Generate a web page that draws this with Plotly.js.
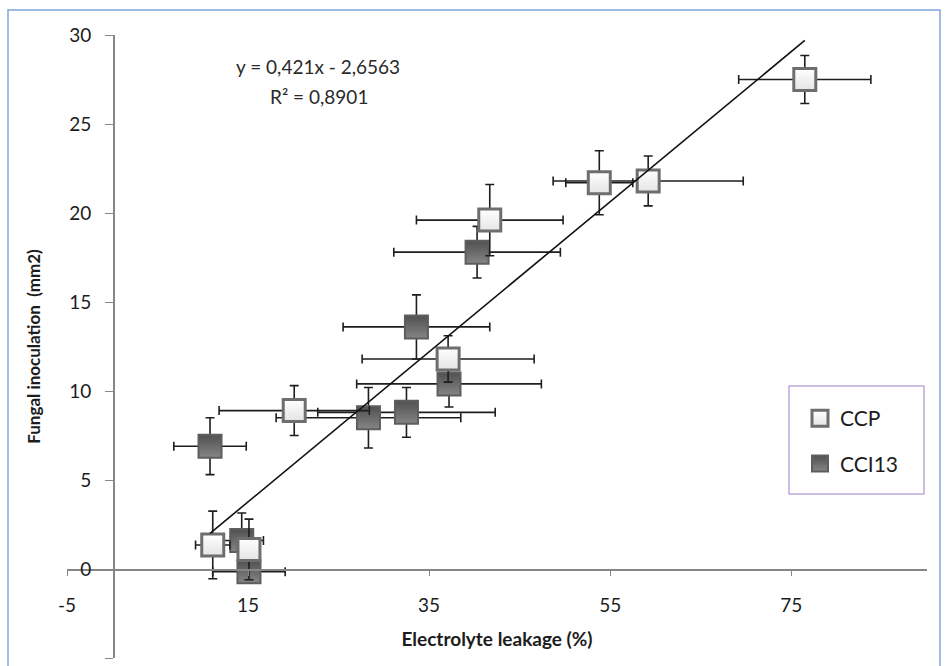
<!DOCTYPE html>
<html>
<head>
<meta charset="utf-8">
<script src="https://cdn.plot.ly/plotly-3.0.1.min.js"></script>
<style>
html,body{margin:0;padding:0;background:#fff;}
#chart{width:947px;height:666px;}
</style>
</head>
<body>
<div id="chart"></div>
<script>
// ---- data ----
const ccpX    = [11.1, 15.1, 20.1, 37.1, 41.7, 53.8, 59.2, 76.5];
const ccpY    = [1.35, 1.1, 8.9, 11.8, 19.6, 21.7, 21.8, 27.5];
const ccpXErr = [1.9, 1.0, 8.3, 9.5, 8.1, 3.7, 10.5, 7.3];
const ccpYErr = [1.9, 1.7, 1.4, 1.3, 2.0, 1.8, 1.4, 1.35];

const cciX    = [10.8, 14.3, 15.1, 28.3, 32.5, 33.6, 37.2, 40.3];
const cciY    = [6.9, 1.6, -0.15, 8.5, 8.8, 13.6, 10.4, 17.8];
const cciXErr = [4.0, 2.4, 4.0, 10.2, 9.8, 8.1, 10.2, 9.2];
const cciYErr = [1.6, 1.55, 0.65, 1.7, 1.4, 1.8, 1.3, 1.45];

const seriesNames = ["CCP", "CCI13"];
const xTickVals = [-5, 15, 35, 55, 75];
const yTickVals = [-5, 0, 5, 10, 15, 20, 25, 30];
const eqText = "y = 0,421x - 2,6563";
const r2Text = "R² = 0,8901";
const xTitle = "Electrolyte leakage (%)";
const yTitle = "Fungal inoculation  (mm2)";

// ---- linear trendline (least squares over both series) ----
const allX = ccpX.concat(cciX), allY = ccpY.concat(cciY);
const n = allX.length;
const mx = allX.reduce((a,b)=>a+b,0)/n, my = allY.reduce((a,b)=>a+b,0)/n;
let sxy=0, sxx=0;
for (let i=0;i<n;i++){ sxy += (allX[i]-mx)*(allY[i]-my); sxx += (allX[i]-mx)*(allX[i]-mx); }
const slope = sxy/sxx, intercept = my - slope*mx;
const tx = [Math.min(...allX), Math.max(...allX)];
const ty = tx.map(v => slope*v + intercept);

// ---- layout geometry ----
const W = 947, H = 666;
const mL = 67, mR = 20, mT = 35, mB = 8;
const pw = W - mL - mR, ph = H - mT - mB;
const px2x = p => (p - mL)/pw;
const px2y = p => (H - mB - p)/ph;
const xr = [-5, 90], yr = [-5, 30];

const font = "Lato, 'Open Sans', sans-serif";
const axisCol = "#868686";
const txtCol = "#1c1c1c";

const errStyle = {color:"#1e1e1e", thickness:1.6, width:4.5};

const traces = [
  {
    type:"scatter", mode:"markers", name:seriesNames[1],
    x:cciX, y:cciY,
    error_x:Object.assign({type:"data", array:cciXErr, visible:true}, errStyle),
    error_y:Object.assign({type:"data", array:cciYErr, visible:true}, errStyle),
    marker:{symbol:"square", size:23, color:"#505050",
            line:{color:"#5e5e5e", width:2},
            gradient:{type:"vertical", color:"#858585"}},
    legendgroup:"b", legendrank:2
  },
  {
    type:"scatter", mode:"markers", name:seriesNames[0],
    x:ccpX, y:ccpY,
    error_x:Object.assign({type:"data", array:ccpXErr, visible:true}, errStyle),
    error_y:Object.assign({type:"data", array:ccpYErr, visible:true}, errStyle),
    marker:{symbol:"square", size:22, color:"#ffffff",
            line:{color:"#6e6e6e", width:3},
            gradient:{type:"vertical", color:"#e4e4e4"}},
    legendgroup:"a", legendrank:1
  },
  {
    type:"scatter", mode:"lines", x:tx, y:ty, showlegend:false,
    line:{color:"#111", width:1.6}, hoverinfo:"skip"
  }
];

const layout = {
  width:W, height:H,
  margin:{l:mL, r:mR, t:mT, b:mB, pad:0},
  paper_bgcolor:"#fff", plot_bgcolor:"rgba(0,0,0,0)",
  font:{family:font, size:19, color:txtCol},
  showlegend:true,
  xaxis:{
    range:xr, domain:[0,1], anchor:"free", position:px2y(569),
    tickmode:"array", tickvals:xTickVals, ticktext:xTickVals.map(String),
    ticks:"outside", ticklen:5, tickwidth:1, tickcolor:axisCol,
    showline:true, linecolor:axisCol, linewidth:1.8,
    showgrid:false, zeroline:false, ticklabelstandoff:13,
    tickfont:{family:font, size:19, color:txtCol},
    title:{text:"<b>"+xTitle+"</b>", font:{family:font, size:19, color:txtCol}, standoff:18}
  },
  yaxis:{
    range:yr, domain:[0,1], anchor:"free", position:px2x(113),
    tickmode:"array", tickvals:yTickVals, ticktext:yTickVals.map(String),
    ticks:"outside", ticklen:8, tickwidth:1, tickcolor:axisCol,
    showline:true, linecolor:axisCol, linewidth:1.8,
    showgrid:false, zeroline:false, ticklabelstandoff:10,
    tickfont:{family:font, size:19, color:txtCol},
    title:{text:"<b>"+yTitle+"</b>", font:{family:font, size:17, color:txtCol}, standoff:22}
  },
  legend:{
    x:px2x(800), y:px2y(398), xanchor:"left", yanchor:"top",
    bgcolor:"rgba(0,0,0,0)", borderwidth:0,
    font:{family:font, size:21, color:txtCol},
    traceorder:"grouped", tracegroupgap:15
  },
  annotations:[
    {xref:"paper", yref:"paper", x:px2x(318), y:px2y(67),
     xanchor:"center", yanchor:"middle", showarrow:false,
     text:eqText, font:{family:font, size:19, color:"#2a2a2a"}},
    {xref:"paper", yref:"paper", x:px2x(319), y:px2y(96),
     xanchor:"center", yanchor:"middle", showarrow:false,
     text:r2Text, font:{family:font, size:19, color:"#2a2a2a"}}
  ],
  shapes:[
    {type:"rect", xref:"paper", yref:"paper", layer:"below",
     x0:px2x(8), x1:px2x(940), y0:px2y(700), y1:px2y(10),
     line:{color:"#7fa6d8", width:1.5}, fillcolor:"rgba(0,0,0,0)"},
    {type:"rect", xref:"paper", yref:"paper", layer:"above",
     x0:px2x(789), x1:px2x(924), y0:px2y(494), y1:px2y(386),
     line:{color:"#b9a9d9", width:1.5}, fillcolor:"#ffffff"}
  ]
};

Plotly.newPlot("chart", traces, layout, {staticPlot:true, displayModeBar:false});
</script>
</body>
</html>
